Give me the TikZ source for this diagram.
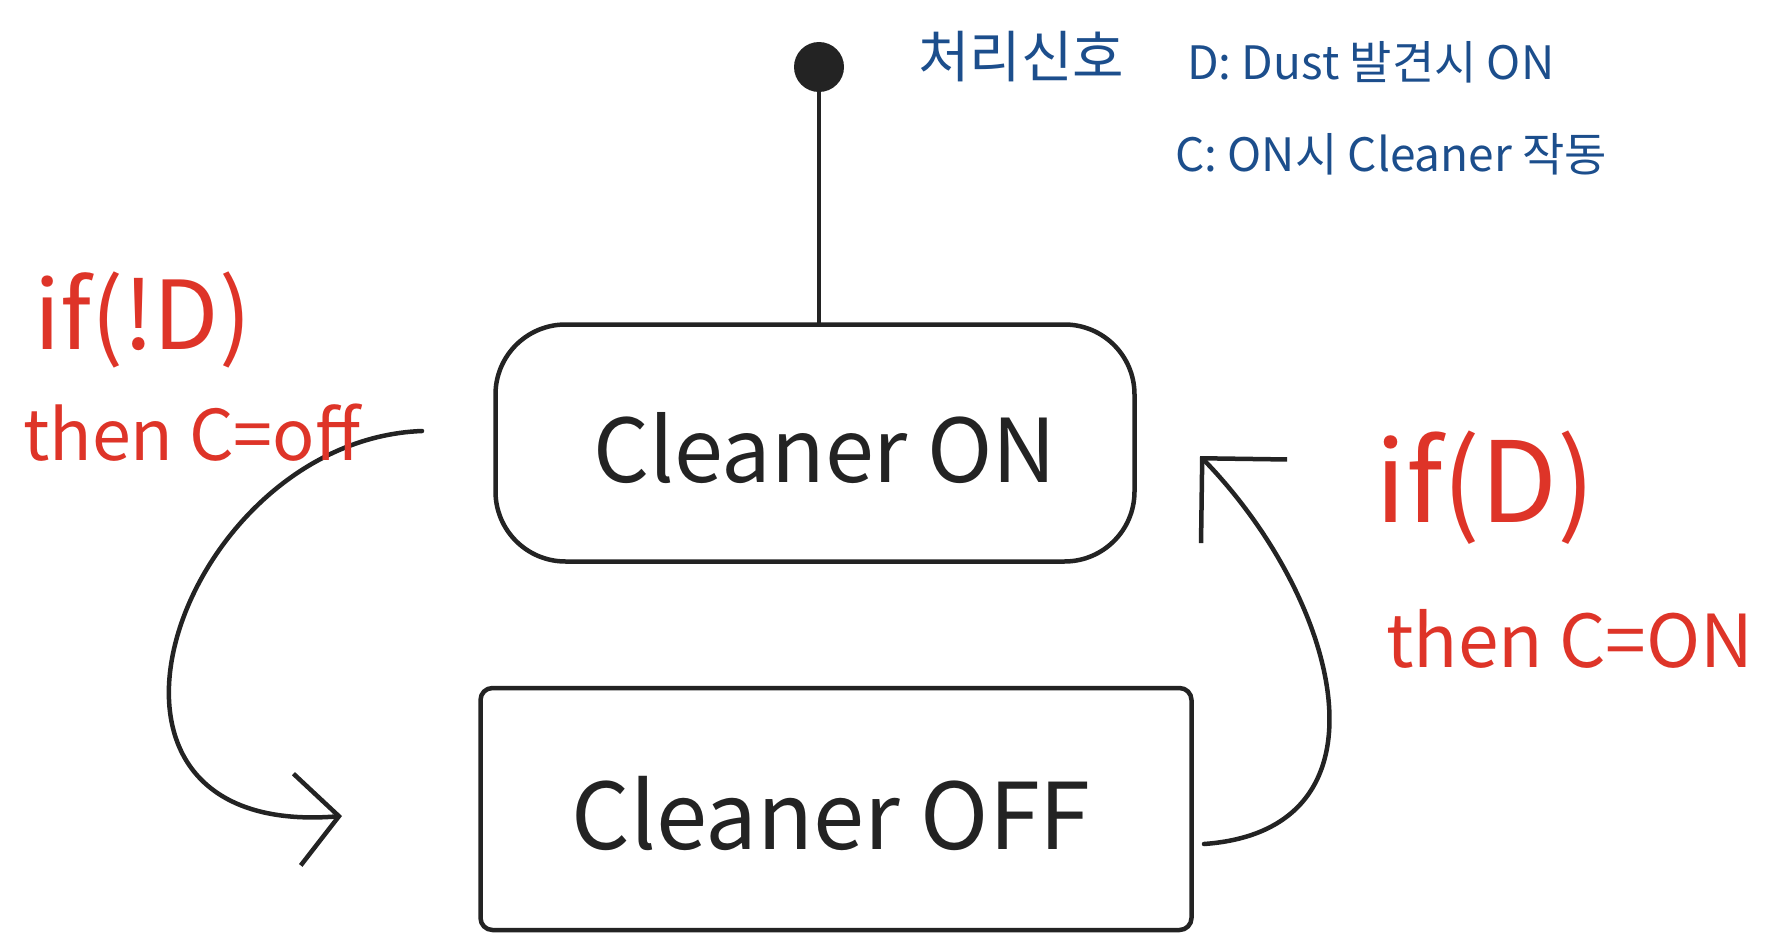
\documentclass[tikz,border=0pt]{standalone}
\usepackage{fontspec}
\setmainfont{Noto Sans CJK KR}
\usetikzlibrary{arrows.meta}
\definecolor{ink}{RGB}{35,35,35}
\definecolor{redink}{RGB}{222,52,40}
\definecolor{blueink}{RGB}{28,78,140}
\tikzset{
  stroke/.style={draw=ink, line width=4.5pt, line cap=round, line join=round},
  statebox/.style={stroke, inner sep=0pt, text=ink},
  redlbl/.style={text=redink, anchor=west, inner sep=0pt},
  bluelbl/.style={text=blueink, anchor=west, inner sep=0pt},
  barbsmall/.style={-{Straight Barb[length=42pt,width=92pt,line width=4.5pt]}},
  barbbig/.style={-{Straight Barb[length=60pt,width=120pt,line width=4.5pt]}},
}
\newcommand{\fsz}[1]{\fontsize{#1pt}{#1pt}\selectfont}
\begin{document}
\begin{tikzpicture}[x=1pt,y=-1pt]
\useasboundingbox (0,0) rectangle (1789,934);
% initial dot
\node[circle, fill=ink, minimum size=50pt, inner sep=0pt] (init) at (819,67) {};
% states
\node[statebox, rounded corners=70pt, minimum width=639pt, minimum height=237pt] (con) at (815,443) {};
\node[statebox, rounded corners=12pt, minimum width=711pt, minimum height=242pt] (coff) at (836,809) {};
\node[text=ink, inner sep=0pt] (tcon) at (825,448) {\fsz{88}Cleaner ON};
\node[text=ink, inner sep=0pt] (tcoff) at (831,813) {\fsz{92}Cleaner OFF};
% initial line
\draw[stroke] (init.south) -- (init |- con.north);
% transitions
\coordinate (ls) at (422,431);
\coordinate (le) at (342,816);
\coordinate (rs) at (1204,844);
\coordinate (re) at (1200,456);
\draw[stroke, barbsmall] (ls) .. controls (180,440) and (40,840) .. (le);
\draw[stroke, barbbig] (rs) .. controls (1400,830) and (1340,600) .. (re);
% red labels
\node[redlbl] (l1) at (34,320) {\fsz{95}if(!D)};
\node[redlbl] (l2) at (23,433) {\fsz{70}then C=off};
\node[redlbl] (r1) at (1375,488) {\fsz{112}if(D)};
\node[redlbl] (r2) at (1386,639) {\fsz{73}then C=ON};
% blue notes
\node[bluelbl] (n0) at (918,57) {\fsz{56}처리신호};
\node[bluelbl] (n1) at (1187,62) {\fsz{46}D: Dust 발견시 ON};
\node[bluelbl] (n2) at (1175,154) {\fsz{46}C: ON시 Cleaner 작동};
\end{tikzpicture}
\end{document}
